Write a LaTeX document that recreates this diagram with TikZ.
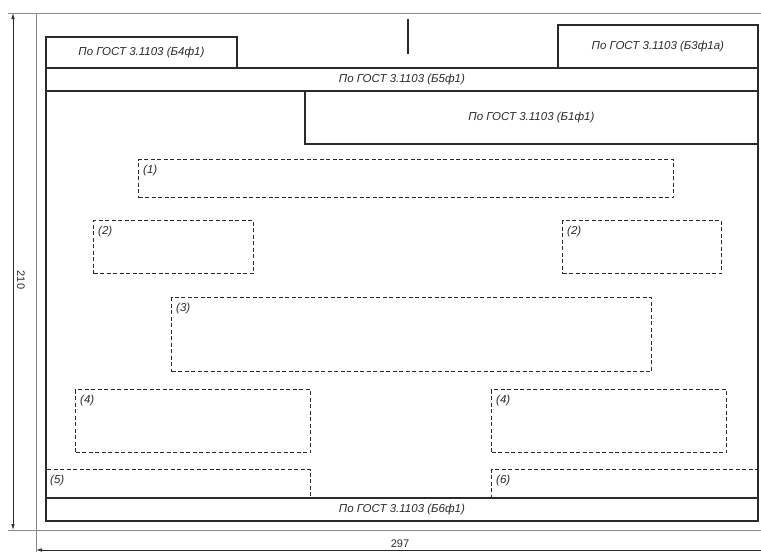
\documentclass[tikz,border=0pt]{standalone}
\usepackage{fontspec}
\setmainfont{Liberation Sans}
\usetikzlibrary{arrows.meta, calc, positioning}
\definecolor{inkgray}{HTML}{2A2A2A}
\definecolor{sheetgray}{HTML}{8A8A8A}
\tikzset{
  %form block style
  gostbox/.style={
    draw=inkgray
    , line width=1.8pt
    , anchor=north west
    , inner sep=0pt
    , text=inkgray
    , text centered
    , font=\fontsize{11.5}{13}\selectfont\itshape
  },
  %dashed zone style
  zone/.style={
    draw=inkgray
    , line width=1.4pt
    , dash pattern=on 4pt off 2.5pt
    , anchor=north west
    , inner sep=0pt
  },
  zonelbl/.style={
    anchor=north west
    , inner sep=0pt
    , xshift=5pt
    , yshift=-6pt
    , text=inkgray
    , font=\fontsize{11.5}{13}\selectfont\itshape
  },
  dimtip/.tip={Latex[length=6pt, width=3.5pt]},
}

\begin{document}
\begin{tikzpicture}[x=1pt, y=-1pt]
  \tikzstyle{sheet}=[draw=sheetgray, line width=0.9pt]
  \tikzstyle{dim}=[draw=inkgray, line width=0.7pt]
  \useasboundingbox (0,0) rectangle (761,552);

  % sheet outline
  \coordinate (s-tl) at (8,13);
  \coordinate (s-tr) at (761,13);
  \coordinate (s-bl) at (8,530);
  \coordinate (s-br) at (761,530);
  \coordinate (s-lt) at (36,13);
  \coordinate (s-lb) at (36,552);
  \draw [sheet] (s-tl) -- (s-tr);
  \draw [sheet] (s-bl) -- (s-br);
  \draw [sheet] (s-lt) -- (s-lb);

  % dimensions
  \coordinate (d210-t) at (13,13);
  \coordinate (d210-b) at (13,530);
  \draw [dim, dimtip-dimtip] (d210-t) -- (d210-b);
  \node [rotate=-90, text=inkgray, font=\fontsize{11}{12}\selectfont] (l210) at (21,280) {210};
  \coordinate (d297-l) at (36,550);
  \coordinate (d297-r) at (761,550);
  \draw [dim, dimtip-] (d297-l) -- (d297-r);
  \node [text=inkgray, font=\fontsize{11}{12}\selectfont] (l297) at (400,544) {297};

  % field
  \node [gostbox, minimum width=712pt, minimum height=407pt] (field) at (45,90) {};

  % zones
  \node [zone, minimum width=535pt, minimum height=38pt, label={[zonelbl]north west:(1)}] (z1) at (138,159) {};
  \node [zone, minimum width=160pt, minimum height=53pt, label={[zonelbl]north west:(2)}] (z2a) at (93,220) {};
  \node [zone, minimum width=159pt, minimum height=53pt, label={[zonelbl]north west:(2)}] (z2b) at (562,220) {};
  \node [zone, minimum width=480pt, minimum height=74pt, label={[zonelbl]north west:(3)}] (z3) at (171,297) {};
  \node [zone, minimum width=235pt, minimum height=63pt, label={[zonelbl]north west:(4)}] (z4a) at (75,389) {};
  \node [zone, minimum width=235pt, minimum height=63pt, label={[zonelbl]north west:(4)}] (z4b) at (491,389) {};
  \node [zone, minimum width=265pt, minimum height=28pt, label={[zonelbl]north west:(5)}] (z5) at (45,469) {};
  \node [zone, minimum width=266pt, minimum height=28pt, label={[zonelbl]north west:(6)}] (z6) at (491,469) {};

  % form blocks
  \node [gostbox, minimum width=191pt, minimum height=31pt] (b4) at (45,36) {По ГОСТ 3.1103 (Б4ф1)};
  \node [gostbox, minimum width=200pt, minimum height=43pt] (b3) at (557,24) {По ГОСТ 3.1103 (Б3ф1а)};
  \node [gostbox, minimum width=712pt, minimum height=23pt] (b5) at (45,67) {По ГОСТ 3.1103 (Б5ф1)};
  \node [gostbox, minimum width=453pt, minimum height=53pt] (b1) at (304,90) {По ГОСТ 3.1103 (Б1ф1)};
  \node [gostbox, minimum width=712pt, minimum height=23pt] (b6) at (45,497) {По ГОСТ 3.1103 (Б6ф1)};

  % centre mark
  \coordinate (cm-t) at (408,19);
  \coordinate (cm-b) at (408,54);
  \draw [draw=inkgray, line width=1.8pt] (cm-t) -- (cm-b);

\end{tikzpicture}
\end{document}
